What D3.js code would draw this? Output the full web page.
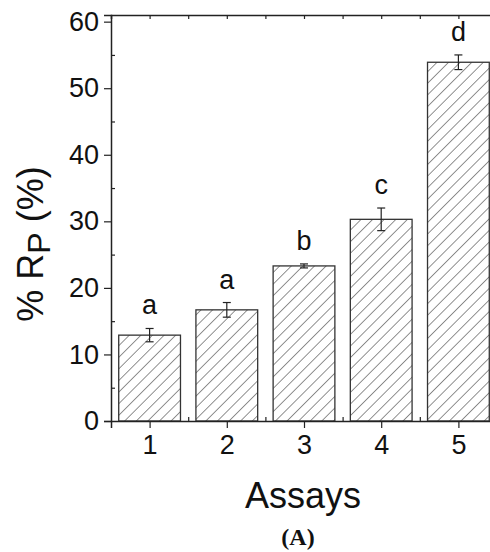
<!DOCTYPE html>
<html>
<head>
<meta charset="utf-8">
<script src="https://cdn.jsdelivr.net/npm/d3@7"></script>
<style>
  body { margin: 0; background: #fff; }
</style>
</head>
<body>
<svg id="chart" width="490" height="552"></svg>
<script>
// data
const assays = [1, 2, 3, 4, 5];
const meanRP = [12.9, 16.7, 23.3, 30.3, 53.9];
const errRP = [1.0, 1.1, 0.3, 1.7, 1.1];
const groupLetters = ["a", "a", "b", "c", "d"];
const yTicks = [0, 10, 20, 30, 40, 50, 60];

const sans = "Liberation Sans, Arial, sans-serif";
const svg = d3.select("#chart");
const plotLeft = 111, plotTop = 15, plotBottom = 421, plotRight = 497;

const x = d3.scaleLinear().domain([0.5, 5.5]).range([plotLeft, plotRight]);
const y = d3.scaleLinear().domain([0, 61]).range([plotBottom, plotTop]);
const barW = x(1.4) - x(0.6);

// hatch pattern
const defs = svg.append("defs");
defs.append("pattern")
  .attr("id", "hatch")
  .attr("patternUnits", "userSpaceOnUse")
  .attr("width", 8.2)
  .attr("height", 8.2)
  .attr("patternTransform", "rotate(45)")
  .append("line")
  .attr("x1", 0).attr("y1", 0)
  .attr("x2", 0).attr("y2", 8.2)
  .attr("stroke", "#222")
  .attr("stroke-width", 1);

const rows = assays.map((a, i) => ({ a, v: meanRP[i], e: errRP[i], g: groupLetters[i] }));

// bars
svg.selectAll(".bar")
  .data(rows)
  .enter()
  .append("rect")
  .attr("class", "bar")
  .attr("x", (d) => x(d.a) - barW / 2)
  .attr("y", (d) => y(d.v))
  .attr("width", barW)
  .attr("height", (d) => y(0) - y(d.v))
  .attr("fill", "url(#hatch)")
  .attr("stroke", "#333")
  .attr("stroke-width", 1.3);

// error bars
const err = svg.selectAll(".err").data(rows).enter().append("g").attr("class", "err")
  .attr("stroke", "#222").attr("stroke-width", 1.2);
err.append("line")
  .attr("x1", (d) => x(d.a)).attr("x2", (d) => x(d.a))
  .attr("y1", (d) => y(d.v - d.e)).attr("y2", (d) => y(d.v + d.e));
err.append("line")
  .attr("x1", (d) => x(d.a) - 4).attr("x2", (d) => x(d.a) + 4)
  .attr("y1", (d) => y(d.v + d.e)).attr("y2", (d) => y(d.v + d.e));
err.append("line")
  .attr("x1", (d) => x(d.a) - 4).attr("x2", (d) => x(d.a) + 4)
  .attr("y1", (d) => y(d.v - d.e)).attr("y2", (d) => y(d.v - d.e));

// significance letters
svg.selectAll(".grp")
  .data(rows)
  .enter()
  .append("text")
  .attr("class", "grp")
  .attr("x", (d) => x(d.a))
  .attr("y", (d) => y(d.v + d.e) - 14)
  .attr("text-anchor", "middle")
  .style("font-family", sans)
  .style("font-size", "27px")
  .style("fill", "#111")
  .text((d) => d.g);

// axes
const yAxis = svg.append("g")
  .attr("transform", `translate(${plotLeft},0)`)
  .call(d3.axisLeft(y).tickValues(yTicks).tickSize(7).tickPadding(5));
const xAxis = svg.append("g")
  .attr("transform", `translate(0,${plotBottom})`)
  .call(d3.axisBottom(x).tickValues(assays).tickSize(7).tickPadding(7).tickFormat(d3.format("d")));
const topAxis = svg.append("g")
  .attr("transform", `translate(0,${plotTop})`)
  .call(d3.axisTop(x).tickValues(d3.range(1, 6, 0.5)).tickSize(-4).tickFormat(""));

// minor ticks (inside)
const minorY = svg.append("g")
  .attr("transform", `translate(${plotLeft},0)`)
  .call(d3.axisRight(y).tickValues([5, 15, 25, 35, 45, 55]).tickSize(4).tickFormat(""));
const minorX = svg.append("g")
  .attr("transform", `translate(0,${plotBottom})`)
  .call(d3.axisTop(x).tickValues([1.5, 2.5, 3.5, 4.5]).tickSize(4).tickFormat(""));
minorY.select(".domain").remove();
minorX.select(".domain").remove();

svg.selectAll(".domain")
  .attr("stroke", "#222")
  .attr("stroke-width", 1.5);
svg.selectAll(".tick line")
  .attr("stroke", "#222")
  .attr("stroke-width", 1.2);
svg.selectAll(".tick text")
  .style("font-family", sans)
  .style("font-size", "27px")
  .style("fill", "#111");

// axis titles
const yt = svg.append("text")
  .attr("transform", `translate(43,244) rotate(-90)`)
  .attr("text-anchor", "middle")
  .style("font-family", sans)
  .style("font-size", "36px")
  .style("fill", "#111");
yt.append("tspan").text("% R");
yt.append("tspan").attr("dy", 7).style("font-size", "32px").text("P");
yt.append("tspan").attr("dy", -7).text(" (%)");

svg.append("text")
  .attr("x", 303)
  .attr("y", 508)
  .attr("text-anchor", "middle")
  .style("font-family", sans)
  .style("font-size", "36px")
  .style("fill", "#111")
  .text("Assays");

svg.append("text")
  .attr("x", 298)
  .attr("y", 545)
  .attr("text-anchor", "middle")
  .style("font-family", "Liberation Serif, Times New Roman, serif")
  .style("font-weight", "bold")
  .style("font-size", "24px")
  .style("fill", "#111")
  .text("(A)");
</script>
</body>
</html>
